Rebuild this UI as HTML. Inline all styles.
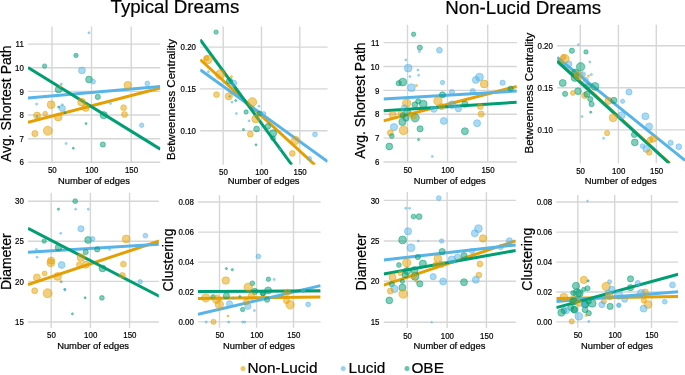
<!DOCTYPE html>
<html lang="en"><head><meta charset="utf-8"><title>Dream network measures</title>
<style>html,body{margin:0;padding:0;background:#fff}body{width:685px;height:375px;overflow:hidden}svg{display:block;will-change:transform}text{font-family:'Liberation Sans', Arial, Helvetica, sans-serif;fill:#000;stroke:#000;stroke-width:0.2px}</style></head><body>
<svg width="685" height="375" viewBox="0 0 685 375">
<rect width="685" height="375" fill="#fff"/>
<clipPath id="c0"><rect x="28.0" y="26.4" width="132.3" height="136.4"/></clipPath>
<g stroke="#d6d6d6" stroke-width="1.4" fill="none">
<line x1="52.0" y1="26.4" x2="52.0" y2="162.8"/>
<line x1="91.5" y1="26.4" x2="91.5" y2="162.8"/>
<line x1="131.2" y1="26.4" x2="131.2" y2="162.8"/>
<line x1="28.0" y1="44.1" x2="160.3" y2="44.1"/>
<line x1="28.0" y1="67.8" x2="160.3" y2="67.8"/>
<line x1="28.0" y1="91.4" x2="160.3" y2="91.4"/>
<line x1="28.0" y1="115.0" x2="160.3" y2="115.0"/>
<line x1="28.0" y1="138.7" x2="160.3" y2="138.7"/>
<line x1="28.0" y1="162.3" x2="160.3" y2="162.3"/>
</g>
<g clip-path="url(#c0)">
<line x1="28.0" y1="122.3" x2="160.3" y2="88.0" stroke="#E69F00" stroke-width="3.0"/>
<line x1="28.0" y1="97.9" x2="160.3" y2="86.5" stroke="#56B4E9" stroke-width="3.0"/>
<line x1="28.0" y1="67.6" x2="160.3" y2="149.1" stroke="#009E73" stroke-width="3.0"/>
<circle cx="89.0" cy="32.7" r="1.0" fill="#56B4E9" fill-opacity="0.5" stroke="#56B4E9" stroke-opacity="0.55" stroke-width="0.9"/>
<circle cx="76.0" cy="55.4" r="2.2" fill="#009E73" fill-opacity="0.5" stroke="#009E73" stroke-opacity="0.55" stroke-width="0.9"/>
<circle cx="76.0" cy="55.2" r="0.7" fill="#56B4E9" fill-opacity="0.5" stroke="#56B4E9" stroke-opacity="0.55" stroke-width="0.9"/>
<circle cx="44.6" cy="66.1" r="2.2" fill="#009E73" fill-opacity="0.5" stroke="#009E73" stroke-opacity="0.55" stroke-width="0.9"/>
<circle cx="81.9" cy="70.4" r="3.4" fill="#56B4E9" fill-opacity="0.5" stroke="#56B4E9" stroke-opacity="0.55" stroke-width="0.9"/>
<circle cx="89.0" cy="79.5" r="3.4" fill="#009E73" fill-opacity="0.5" stroke="#009E73" stroke-opacity="0.55" stroke-width="0.9"/>
<circle cx="93.1" cy="81.6" r="2.4" fill="#56B4E9" fill-opacity="0.5" stroke="#56B4E9" stroke-opacity="0.55" stroke-width="0.9"/>
<circle cx="61.4" cy="84.0" r="1.0" fill="#56B4E9" fill-opacity="0.5" stroke="#56B4E9" stroke-opacity="0.55" stroke-width="0.9"/>
<circle cx="58.6" cy="89.4" r="3.4" fill="#009E73" fill-opacity="0.5" stroke="#009E73" stroke-opacity="0.55" stroke-width="0.9"/>
<circle cx="60.5" cy="86.2" r="1.0" fill="#E69F00" fill-opacity="0.5" stroke="#E69F00" stroke-opacity="0.55" stroke-width="0.9"/>
<circle cx="127.7" cy="85.1" r="3.7" fill="#E69F00" fill-opacity="0.5" stroke="#E69F00" stroke-opacity="0.55" stroke-width="0.9"/>
<circle cx="147.3" cy="83.4" r="2.4" fill="#56B4E9" fill-opacity="0.5" stroke="#56B4E9" stroke-opacity="0.55" stroke-width="0.9"/>
<circle cx="36.6" cy="104.1" r="1.0" fill="#56B4E9" fill-opacity="0.5" stroke="#56B4E9" stroke-opacity="0.55" stroke-width="0.9"/>
<circle cx="51.1" cy="104.7" r="3.9" fill="#E69F00" fill-opacity="0.5" stroke="#E69F00" stroke-opacity="0.55" stroke-width="0.9"/>
<circle cx="62.3" cy="108.4" r="3.1" fill="#56B4E9" fill-opacity="0.5" stroke="#56B4E9" stroke-opacity="0.55" stroke-width="0.9"/>
<circle cx="62.3" cy="104.7" r="1.0" fill="#56B4E9" fill-opacity="0.5" stroke="#56B4E9" stroke-opacity="0.55" stroke-width="0.9"/>
<circle cx="58.6" cy="107.1" r="1.0" fill="#009E73" fill-opacity="0.5" stroke="#009E73" stroke-opacity="0.55" stroke-width="0.9"/>
<circle cx="37.1" cy="116.5" r="1.0" fill="#009E73" fill-opacity="0.5" stroke="#009E73" stroke-opacity="0.55" stroke-width="0.9"/>
<circle cx="37.1" cy="115.5" r="3.5" fill="#E69F00" fill-opacity="0.5" stroke="#E69F00" stroke-opacity="0.55" stroke-width="0.9"/>
<circle cx="45.2" cy="113.7" r="2.4" fill="#E69F00" fill-opacity="0.5" stroke="#E69F00" stroke-opacity="0.55" stroke-width="0.9"/>
<circle cx="58.2" cy="117.0" r="3.9" fill="#E69F00" fill-opacity="0.5" stroke="#E69F00" stroke-opacity="0.55" stroke-width="0.9"/>
<circle cx="65.1" cy="112.7" r="1.0" fill="#009E73" fill-opacity="0.5" stroke="#009E73" stroke-opacity="0.55" stroke-width="0.9"/>
<circle cx="81.6" cy="102.1" r="3.9" fill="#E69F00" fill-opacity="0.5" stroke="#E69F00" stroke-opacity="0.55" stroke-width="0.9"/>
<circle cx="85.7" cy="107.7" r="3.7" fill="#E69F00" fill-opacity="0.5" stroke="#E69F00" stroke-opacity="0.55" stroke-width="0.9"/>
<circle cx="86.0" cy="123.6" r="1.0" fill="#009E73" fill-opacity="0.5" stroke="#009E73" stroke-opacity="0.55" stroke-width="0.9"/>
<circle cx="47.8" cy="130.8" r="4.5" fill="#E69F00" fill-opacity="0.5" stroke="#E69F00" stroke-opacity="0.55" stroke-width="0.9"/>
<circle cx="34.9" cy="133.6" r="3.1" fill="#E69F00" fill-opacity="0.5" stroke="#E69F00" stroke-opacity="0.55" stroke-width="0.9"/>
<circle cx="66.1" cy="143.5" r="1.0" fill="#56B4E9" fill-opacity="0.5" stroke="#56B4E9" stroke-opacity="0.55" stroke-width="0.9"/>
<circle cx="73.3" cy="148.2" r="1.0" fill="#009E73" fill-opacity="0.5" stroke="#009E73" stroke-opacity="0.55" stroke-width="0.9"/>
<circle cx="97.8" cy="96.9" r="2.6" fill="#009E73" fill-opacity="0.5" stroke="#009E73" stroke-opacity="0.55" stroke-width="0.9"/>
<circle cx="110.5" cy="103.4" r="1.0" fill="#56B4E9" fill-opacity="0.5" stroke="#56B4E9" stroke-opacity="0.55" stroke-width="0.9"/>
<circle cx="123.6" cy="107.7" r="2.9" fill="#E69F00" fill-opacity="0.5" stroke="#E69F00" stroke-opacity="0.55" stroke-width="0.9"/>
<circle cx="124.5" cy="114.6" r="3.0" fill="#E69F00" fill-opacity="0.5" stroke="#E69F00" stroke-opacity="0.55" stroke-width="0.9"/>
<circle cx="103.8" cy="115.2" r="3.6" fill="#009E73" fill-opacity="0.5" stroke="#009E73" stroke-opacity="0.55" stroke-width="0.9"/>
<circle cx="141.7" cy="125.2" r="2.2" fill="#56B4E9" fill-opacity="0.5" stroke="#56B4E9" stroke-opacity="0.55" stroke-width="0.9"/>
<circle cx="102.8" cy="144.5" r="2.6" fill="#009E73" fill-opacity="0.5" stroke="#009E73" stroke-opacity="0.55" stroke-width="0.9"/>
</g>
<g font-size="8.6">
<text transform="translate(52.3 173.4) scale(0.92 1)" text-anchor="middle">50</text>
<text transform="translate(91.8 173.4) scale(0.92 1)" text-anchor="middle">100</text>
<text transform="translate(131.5 173.4) scale(0.92 1)" text-anchor="middle">150</text>
<text transform="translate(23.8 47.2) scale(0.92 1)" text-anchor="end">11</text>
<text transform="translate(23.8 70.9) scale(0.92 1)" text-anchor="end">10</text>
<text transform="translate(23.8 94.5) scale(0.92 1)" text-anchor="end">9</text>
<text transform="translate(23.8 118.1) scale(0.92 1)" text-anchor="end">8</text>
<text transform="translate(23.8 141.8) scale(0.92 1)" text-anchor="end">7</text>
<text transform="translate(23.8 165.4) scale(0.92 1)" text-anchor="end">6</text>
</g>
<text x="93.9" y="184.3" text-anchor="middle" font-size="9.4">Number of edges</text>
<text transform="translate(10.9 103.8) rotate(-90)" text-anchor="middle" font-size="14.0">Avg. Shortest Path</text>
<clipPath id="c1"><rect x="200.2" y="26.4" width="127.4" height="138.4"/></clipPath>
<g stroke="#d6d6d6" stroke-width="1.4" fill="none">
<line x1="223.2" y1="26.4" x2="223.2" y2="164.8"/>
<line x1="261.5" y1="26.4" x2="261.5" y2="164.8"/>
<line x1="299.8" y1="26.4" x2="299.8" y2="164.8"/>
<line x1="200.2" y1="47.1" x2="327.6" y2="47.1"/>
<line x1="200.2" y1="88.9" x2="327.6" y2="88.9"/>
<line x1="200.2" y1="130.7" x2="327.6" y2="130.7"/>
</g>
<g clip-path="url(#c1)">
<line x1="200.2" y1="59.5" x2="314.8" y2="164.8" stroke="#E69F00" stroke-width="3.0"/>
<line x1="200.2" y1="69.8" x2="327.6" y2="161.5" stroke="#56B4E9" stroke-width="3.0"/>
<line x1="200.2" y1="39.7" x2="291.8" y2="164.8" stroke="#009E73" stroke-width="3.0"/>
<circle cx="216.1" cy="32.1" r="2.2" fill="#009E73" fill-opacity="0.5" stroke="#009E73" stroke-opacity="0.55" stroke-width="0.9"/>
<circle cx="208.1" cy="59.5" r="4.2" fill="#E69F00" fill-opacity="0.5" stroke="#E69F00" stroke-opacity="0.55" stroke-width="0.9"/>
<circle cx="206.2" cy="58.2" r="2.6" fill="#E69F00" fill-opacity="0.5" stroke="#E69F00" stroke-opacity="0.55" stroke-width="0.9"/>
<circle cx="208.4" cy="71.7" r="1.1" fill="#56B4E9" fill-opacity="0.5" stroke="#56B4E9" stroke-opacity="0.55" stroke-width="0.9"/>
<circle cx="220.2" cy="74.5" r="4.7" fill="#E69F00" fill-opacity="0.5" stroke="#E69F00" stroke-opacity="0.55" stroke-width="0.9"/>
<circle cx="231.4" cy="76.7" r="1.1" fill="#E69F00" fill-opacity="0.5" stroke="#E69F00" stroke-opacity="0.55" stroke-width="0.9"/>
<circle cx="233.6" cy="83.2" r="3.1" fill="#56B4E9" fill-opacity="0.5" stroke="#56B4E9" stroke-opacity="0.55" stroke-width="0.9"/>
<circle cx="229.5" cy="81.0" r="3.1" fill="#009E73" fill-opacity="0.5" stroke="#009E73" stroke-opacity="0.55" stroke-width="0.9"/>
<circle cx="216.5" cy="94.6" r="2.9" fill="#E69F00" fill-opacity="0.5" stroke="#E69F00" stroke-opacity="0.55" stroke-width="0.9"/>
<circle cx="229.6" cy="96.4" r="0.8" fill="#009E73" fill-opacity="0.5" stroke="#009E73" stroke-opacity="0.55" stroke-width="0.9"/>
<circle cx="228.8" cy="96.3" r="3.6" fill="#E69F00" fill-opacity="0.5" stroke="#E69F00" stroke-opacity="0.55" stroke-width="0.9"/>
<circle cx="232.0" cy="102.1" r="1.0" fill="#56B4E9" fill-opacity="0.5" stroke="#56B4E9" stroke-opacity="0.55" stroke-width="0.9"/>
<circle cx="235.7" cy="100.6" r="1.0" fill="#009E73" fill-opacity="0.5" stroke="#009E73" stroke-opacity="0.55" stroke-width="0.9"/>
<circle cx="252.3" cy="102.1" r="4.4" fill="#E69F00" fill-opacity="0.5" stroke="#E69F00" stroke-opacity="0.55" stroke-width="0.9"/>
<circle cx="259.0" cy="106.2" r="1.0" fill="#56B4E9" fill-opacity="0.5" stroke="#56B4E9" stroke-opacity="0.55" stroke-width="0.9"/>
<circle cx="236.4" cy="113.5" r="1.0" fill="#56B4E9" fill-opacity="0.5" stroke="#56B4E9" stroke-opacity="0.55" stroke-width="0.9"/>
<circle cx="246.1" cy="112.0" r="2.2" fill="#009E73" fill-opacity="0.5" stroke="#009E73" stroke-opacity="0.55" stroke-width="0.9"/>
<circle cx="255.7" cy="118.9" r="3.9" fill="#E69F00" fill-opacity="0.5" stroke="#E69F00" stroke-opacity="0.55" stroke-width="0.9"/>
<circle cx="249.1" cy="120.8" r="1.0" fill="#56B4E9" fill-opacity="0.5" stroke="#56B4E9" stroke-opacity="0.55" stroke-width="0.9"/>
<circle cx="259.6" cy="113.5" r="2.6" fill="#009E73" fill-opacity="0.5" stroke="#009E73" stroke-opacity="0.55" stroke-width="0.9"/>
<circle cx="243.5" cy="129.5" r="1.1" fill="#009E73" fill-opacity="0.5" stroke="#009E73" stroke-opacity="0.55" stroke-width="0.9"/>
<circle cx="256.6" cy="129.0" r="2.9" fill="#009E73" fill-opacity="0.5" stroke="#009E73" stroke-opacity="0.55" stroke-width="0.9"/>
<circle cx="250.3" cy="134.2" r="2.9" fill="#E69F00" fill-opacity="0.5" stroke="#E69F00" stroke-opacity="0.55" stroke-width="0.9"/>
<circle cx="256.0" cy="144.8" r="1.0" fill="#009E73" fill-opacity="0.5" stroke="#009E73" stroke-opacity="0.55" stroke-width="0.9"/>
<circle cx="263.7" cy="113.7" r="2.1" fill="#56B4E9" fill-opacity="0.5" stroke="#56B4E9" stroke-opacity="0.55" stroke-width="0.9"/>
<circle cx="267.8" cy="126.4" r="2.9" fill="#009E73" fill-opacity="0.5" stroke="#009E73" stroke-opacity="0.55" stroke-width="0.9"/>
<circle cx="273.1" cy="133.3" r="3.6" fill="#009E73" fill-opacity="0.5" stroke="#009E73" stroke-opacity="0.55" stroke-width="0.9"/>
<circle cx="273.1" cy="138.3" r="2.4" fill="#009E73" fill-opacity="0.5" stroke="#009E73" stroke-opacity="0.55" stroke-width="0.9"/>
<circle cx="295.5" cy="140.4" r="4.2" fill="#E69F00" fill-opacity="0.5" stroke="#E69F00" stroke-opacity="0.55" stroke-width="0.9"/>
<circle cx="314.9" cy="134.4" r="2.4" fill="#56B4E9" fill-opacity="0.5" stroke="#56B4E9" stroke-opacity="0.55" stroke-width="0.9"/>
<circle cx="292.3" cy="153.4" r="2.9" fill="#E69F00" fill-opacity="0.5" stroke="#E69F00" stroke-opacity="0.55" stroke-width="0.9"/>
<circle cx="309.5" cy="158.5" r="2.1" fill="#56B4E9" fill-opacity="0.5" stroke="#56B4E9" stroke-opacity="0.55" stroke-width="0.9"/>
<circle cx="279.6" cy="149.5" r="1.0" fill="#56B4E9" fill-opacity="0.5" stroke="#56B4E9" stroke-opacity="0.55" stroke-width="0.9"/>
</g>
<g font-size="8.6">
<text transform="translate(223.5 175.4) scale(0.92 1)" text-anchor="middle">50</text>
<text transform="translate(261.8 175.4) scale(0.92 1)" text-anchor="middle">100</text>
<text transform="translate(300.1 175.4) scale(0.92 1)" text-anchor="middle">150</text>
<text transform="translate(196.0 50.2) scale(0.92 1)" text-anchor="end">0.20</text>
<text transform="translate(196.0 92.0) scale(0.92 1)" text-anchor="end">0.15</text>
<text transform="translate(196.0 133.8) scale(0.92 1)" text-anchor="end">0.10</text>
</g>
<text x="263.6" y="184.3" text-anchor="middle" font-size="9.4">Number of edges</text>
<text transform="translate(175.3 99.5) rotate(-90)" text-anchor="middle" font-size="11.5">Betweenness Centrality</text>
<clipPath id="c2"><rect x="28.0" y="192.8" width="130.8" height="135.1"/></clipPath>
<g stroke="#d6d6d6" stroke-width="1.4" fill="none">
<line x1="51.2" y1="192.8" x2="51.2" y2="327.9"/>
<line x1="90.4" y1="192.8" x2="90.4" y2="327.9"/>
<line x1="129.6" y1="192.8" x2="129.6" y2="327.9"/>
<line x1="28.0" y1="201.2" x2="158.8" y2="201.2"/>
<line x1="28.0" y1="241.3" x2="158.8" y2="241.3"/>
<line x1="28.0" y1="281.4" x2="158.8" y2="281.4"/>
<line x1="28.0" y1="322.0" x2="158.8" y2="322.0"/>
</g>
<g clip-path="url(#c2)">
<line x1="28.0" y1="284.7" x2="159.8" y2="240.8" stroke="#E69F00" stroke-width="3.0"/>
<line x1="28.0" y1="252.2" x2="159.8" y2="244.2" stroke="#56B4E9" stroke-width="3.0"/>
<line x1="28.0" y1="228.3" x2="159.8" y2="296.6" stroke="#009E73" stroke-width="3.0"/>
<circle cx="75.2" cy="201.2" r="2.4" fill="#009E73" fill-opacity="0.5" stroke="#009E73" stroke-opacity="0.55" stroke-width="0.9"/>
<circle cx="58.4" cy="209.2" r="1.1" fill="#009E73" fill-opacity="0.5" stroke="#009E73" stroke-opacity="0.55" stroke-width="0.9"/>
<circle cx="75.6" cy="209.2" r="1.0" fill="#56B4E9" fill-opacity="0.5" stroke="#56B4E9" stroke-opacity="0.55" stroke-width="0.9"/>
<circle cx="88.3" cy="209.2" r="1.0" fill="#56B4E9" fill-opacity="0.5" stroke="#56B4E9" stroke-opacity="0.55" stroke-width="0.9"/>
<circle cx="81.0" cy="228.8" r="3.1" fill="#56B4E9" fill-opacity="0.5" stroke="#56B4E9" stroke-opacity="0.55" stroke-width="0.9"/>
<circle cx="60.7" cy="233.3" r="1.0" fill="#56B4E9" fill-opacity="0.5" stroke="#56B4E9" stroke-opacity="0.55" stroke-width="0.9"/>
<circle cx="88.1" cy="240.0" r="3.4" fill="#009E73" fill-opacity="0.5" stroke="#009E73" stroke-opacity="0.55" stroke-width="0.9"/>
<circle cx="92.6" cy="238.9" r="2.4" fill="#56B4E9" fill-opacity="0.5" stroke="#56B4E9" stroke-opacity="0.55" stroke-width="0.9"/>
<circle cx="44.2" cy="241.1" r="2.2" fill="#009E73" fill-opacity="0.5" stroke="#009E73" stroke-opacity="0.55" stroke-width="0.9"/>
<circle cx="58.6" cy="247.5" r="3.4" fill="#009E73" fill-opacity="0.5" stroke="#009E73" stroke-opacity="0.55" stroke-width="0.9"/>
<circle cx="36.4" cy="249.4" r="1.0" fill="#56B4E9" fill-opacity="0.5" stroke="#56B4E9" stroke-opacity="0.55" stroke-width="0.9"/>
<circle cx="85.7" cy="252.0" r="2.6" fill="#009E73" fill-opacity="0.5" stroke="#009E73" stroke-opacity="0.55" stroke-width="0.9"/>
<circle cx="37.1" cy="257.2" r="1.0" fill="#56B4E9" fill-opacity="0.5" stroke="#56B4E9" stroke-opacity="0.55" stroke-width="0.9"/>
<circle cx="51.1" cy="260.6" r="3.6" fill="#E69F00" fill-opacity="0.5" stroke="#E69F00" stroke-opacity="0.55" stroke-width="0.9"/>
<circle cx="81.0" cy="257.6" r="3.9" fill="#E69F00" fill-opacity="0.5" stroke="#E69F00" stroke-opacity="0.55" stroke-width="0.9"/>
<circle cx="126.2" cy="238.9" r="3.9" fill="#E69F00" fill-opacity="0.5" stroke="#E69F00" stroke-opacity="0.55" stroke-width="0.9"/>
<circle cx="145.4" cy="235.7" r="2.4" fill="#56B4E9" fill-opacity="0.5" stroke="#56B4E9" stroke-opacity="0.55" stroke-width="0.9"/>
<circle cx="97.2" cy="249.4" r="2.6" fill="#009E73" fill-opacity="0.5" stroke="#009E73" stroke-opacity="0.55" stroke-width="0.9"/>
<circle cx="109.6" cy="249.4" r="1.0" fill="#56B4E9" fill-opacity="0.5" stroke="#56B4E9" stroke-opacity="0.55" stroke-width="0.9"/>
<circle cx="50.8" cy="262.8" r="3.9" fill="#E69F00" fill-opacity="0.5" stroke="#E69F00" stroke-opacity="0.55" stroke-width="0.9"/>
<circle cx="61.6" cy="265.0" r="3.4" fill="#56B4E9" fill-opacity="0.5" stroke="#56B4E9" stroke-opacity="0.55" stroke-width="0.9"/>
<circle cx="44.6" cy="273.4" r="2.4" fill="#E69F00" fill-opacity="0.5" stroke="#E69F00" stroke-opacity="0.55" stroke-width="0.9"/>
<circle cx="36.9" cy="277.4" r="3.5" fill="#E69F00" fill-opacity="0.5" stroke="#E69F00" stroke-opacity="0.55" stroke-width="0.9"/>
<circle cx="57.7" cy="276.4" r="3.9" fill="#E69F00" fill-opacity="0.5" stroke="#E69F00" stroke-opacity="0.55" stroke-width="0.9"/>
<circle cx="60.8" cy="281.7" r="1.0" fill="#E69F00" fill-opacity="0.5" stroke="#E69F00" stroke-opacity="0.55" stroke-width="0.9"/>
<circle cx="61.5" cy="281.7" r="1.0" fill="#56B4E9" fill-opacity="0.5" stroke="#56B4E9" stroke-opacity="0.55" stroke-width="0.9"/>
<circle cx="34.7" cy="290.8" r="3.0" fill="#E69F00" fill-opacity="0.5" stroke="#E69F00" stroke-opacity="0.55" stroke-width="0.9"/>
<circle cx="47.6" cy="293.2" r="4.5" fill="#E69F00" fill-opacity="0.5" stroke="#E69F00" stroke-opacity="0.55" stroke-width="0.9"/>
<circle cx="64.8" cy="289.5" r="1.1" fill="#009E73" fill-opacity="0.5" stroke="#009E73" stroke-opacity="0.55" stroke-width="0.9"/>
<circle cx="64.8" cy="289.5" r="1.0" fill="#56B4E9" fill-opacity="0.5" stroke="#56B4E9" stroke-opacity="0.55" stroke-width="0.9"/>
<circle cx="85.1" cy="297.7" r="1.0" fill="#009E73" fill-opacity="0.5" stroke="#009E73" stroke-opacity="0.55" stroke-width="0.9"/>
<circle cx="72.4" cy="313.8" r="1.0" fill="#009E73" fill-opacity="0.5" stroke="#009E73" stroke-opacity="0.55" stroke-width="0.9"/>
<circle cx="85.7" cy="264.7" r="3.6" fill="#E69F00" fill-opacity="0.5" stroke="#E69F00" stroke-opacity="0.55" stroke-width="0.9"/>
<circle cx="79.1" cy="264.7" r="2.6" fill="#E69F00" fill-opacity="0.5" stroke="#E69F00" stroke-opacity="0.55" stroke-width="0.9"/>
<circle cx="123.4" cy="264.1" r="2.9" fill="#E69F00" fill-opacity="0.5" stroke="#E69F00" stroke-opacity="0.55" stroke-width="0.9"/>
<circle cx="122.4" cy="275.3" r="2.9" fill="#E69F00" fill-opacity="0.5" stroke="#E69F00" stroke-opacity="0.55" stroke-width="0.9"/>
<circle cx="102.5" cy="268.4" r="3.4" fill="#009E73" fill-opacity="0.5" stroke="#009E73" stroke-opacity="0.55" stroke-width="0.9"/>
<circle cx="140.2" cy="281.7" r="2.2" fill="#56B4E9" fill-opacity="0.5" stroke="#56B4E9" stroke-opacity="0.55" stroke-width="0.9"/>
<circle cx="101.9" cy="297.9" r="2.4" fill="#009E73" fill-opacity="0.5" stroke="#009E73" stroke-opacity="0.55" stroke-width="0.9"/>
</g>
<g font-size="8.6">
<text transform="translate(51.5 338.4) scale(0.92 1)" text-anchor="middle">50</text>
<text transform="translate(90.7 338.4) scale(0.92 1)" text-anchor="middle">100</text>
<text transform="translate(129.9 338.4) scale(0.92 1)" text-anchor="middle">150</text>
<text transform="translate(23.8 204.3) scale(0.92 1)" text-anchor="end">30</text>
<text transform="translate(23.8 244.4) scale(0.92 1)" text-anchor="end">25</text>
<text transform="translate(23.8 284.5) scale(0.92 1)" text-anchor="end">20</text>
<text transform="translate(23.8 325.1) scale(0.92 1)" text-anchor="end">15</text>
</g>
<text x="93.1" y="349.1" text-anchor="middle" font-size="9.4">Number of edges</text>
<text transform="translate(10.6 261.7) rotate(-90)" text-anchor="middle" font-size="14.0">Diameter</text>
<clipPath id="c3"><rect x="198.0" y="195.2" width="122.6" height="132.6"/></clipPath>
<g stroke="#d6d6d6" stroke-width="1.4" fill="none">
<line x1="219.5" y1="195.2" x2="219.5" y2="327.8"/>
<line x1="256.6" y1="195.2" x2="256.6" y2="327.8"/>
<line x1="293.5" y1="195.2" x2="293.5" y2="327.8"/>
<line x1="198.0" y1="202.0" x2="320.6" y2="202.0"/>
<line x1="198.0" y1="232.1" x2="320.6" y2="232.1"/>
<line x1="198.0" y1="262.1" x2="320.6" y2="262.1"/>
<line x1="198.0" y1="292.1" x2="320.6" y2="292.1"/>
<line x1="198.0" y1="321.9" x2="320.6" y2="321.9"/>
</g>
<g clip-path="url(#c3)">
<line x1="198.0" y1="298.6" x2="320.6" y2="296.9" stroke="#E69F00" stroke-width="3.0"/>
<line x1="198.0" y1="314.4" x2="320.6" y2="285.6" stroke="#56B4E9" stroke-width="3.0"/>
<line x1="198.0" y1="291.6" x2="320.6" y2="290.8" stroke="#009E73" stroke-width="3.0"/>
<circle cx="226.4" cy="268.6" r="1.1" fill="#009E73" fill-opacity="0.5" stroke="#009E73" stroke-opacity="0.55" stroke-width="0.9"/>
<circle cx="232.3" cy="269.7" r="1.1" fill="#009E73" fill-opacity="0.5" stroke="#009E73" stroke-opacity="0.55" stroke-width="0.9"/>
<circle cx="225.8" cy="280.5" r="3.7" fill="#E69F00" fill-opacity="0.5" stroke="#E69F00" stroke-opacity="0.55" stroke-width="0.9"/>
<circle cx="252.3" cy="283.3" r="2.4" fill="#009E73" fill-opacity="0.5" stroke="#009E73" stroke-opacity="0.55" stroke-width="0.9"/>
<circle cx="248.2" cy="287.1" r="4.2" fill="#E69F00" fill-opacity="0.5" stroke="#E69F00" stroke-opacity="0.55" stroke-width="0.9"/>
<circle cx="254.7" cy="291.4" r="3.1" fill="#009E73" fill-opacity="0.5" stroke="#009E73" stroke-opacity="0.55" stroke-width="0.9"/>
<circle cx="205.8" cy="297.9" r="4.2" fill="#E69F00" fill-opacity="0.5" stroke="#E69F00" stroke-opacity="0.55" stroke-width="0.9"/>
<circle cx="213.1" cy="296.8" r="2.2" fill="#009E73" fill-opacity="0.5" stroke="#009E73" stroke-opacity="0.55" stroke-width="0.9"/>
<circle cx="216.5" cy="299.2" r="4.2" fill="#E69F00" fill-opacity="0.5" stroke="#E69F00" stroke-opacity="0.55" stroke-width="0.9"/>
<circle cx="219.3" cy="304.4" r="4.2" fill="#E69F00" fill-opacity="0.5" stroke="#E69F00" stroke-opacity="0.55" stroke-width="0.9"/>
<circle cx="226.4" cy="295.8" r="3.1" fill="#009E73" fill-opacity="0.5" stroke="#009E73" stroke-opacity="0.55" stroke-width="0.9"/>
<circle cx="229.5" cy="303.9" r="3.1" fill="#56B4E9" fill-opacity="0.5" stroke="#56B4E9" stroke-opacity="0.55" stroke-width="0.9"/>
<circle cx="239.8" cy="296.4" r="1.0" fill="#009E73" fill-opacity="0.5" stroke="#009E73" stroke-opacity="0.55" stroke-width="0.9"/>
<circle cx="233.3" cy="297.9" r="1.0" fill="#56B4E9" fill-opacity="0.5" stroke="#56B4E9" stroke-opacity="0.55" stroke-width="0.9"/>
<circle cx="251.6" cy="296.0" r="3.4" fill="#E69F00" fill-opacity="0.5" stroke="#E69F00" stroke-opacity="0.55" stroke-width="0.9"/>
<circle cx="246.3" cy="302.0" r="2.9" fill="#E69F00" fill-opacity="0.5" stroke="#E69F00" stroke-opacity="0.55" stroke-width="0.9"/>
<circle cx="247.8" cy="306.3" r="3.1" fill="#56B4E9" fill-opacity="0.5" stroke="#56B4E9" stroke-opacity="0.55" stroke-width="0.9"/>
<circle cx="242.6" cy="309.5" r="2.2" fill="#009E73" fill-opacity="0.5" stroke="#009E73" stroke-opacity="0.55" stroke-width="0.9"/>
<circle cx="254.4" cy="310.6" r="1.0" fill="#56B4E9" fill-opacity="0.5" stroke="#56B4E9" stroke-opacity="0.55" stroke-width="0.9"/>
<circle cx="228.0" cy="316.0" r="1.0" fill="#E69F00" fill-opacity="0.5" stroke="#E69F00" stroke-opacity="0.55" stroke-width="0.9"/>
<circle cx="213.5" cy="321.8" r="2.6" fill="#E69F00" fill-opacity="0.5" stroke="#E69F00" stroke-opacity="0.55" stroke-width="0.9"/>
<circle cx="206.2" cy="322.0" r="1.1" fill="#56B4E9" fill-opacity="0.5" stroke="#56B4E9" stroke-opacity="0.55" stroke-width="0.9"/>
<circle cx="228.6" cy="322.0" r="1.0" fill="#56B4E9" fill-opacity="0.5" stroke="#56B4E9" stroke-opacity="0.55" stroke-width="0.9"/>
<circle cx="242.6" cy="322.0" r="1.0" fill="#56B4E9" fill-opacity="0.5" stroke="#56B4E9" stroke-opacity="0.55" stroke-width="0.9"/>
<circle cx="244.7" cy="322.0" r="1.0" fill="#56B4E9" fill-opacity="0.5" stroke="#56B4E9" stroke-opacity="0.55" stroke-width="0.9"/>
<circle cx="263.1" cy="293.2" r="2.6" fill="#009E73" fill-opacity="0.5" stroke="#009E73" stroke-opacity="0.55" stroke-width="0.9"/>
<circle cx="258.4" cy="256.4" r="2.4" fill="#56B4E9" fill-opacity="0.5" stroke="#56B4E9" stroke-opacity="0.55" stroke-width="0.9"/>
<circle cx="268.4" cy="279.2" r="2.2" fill="#009E73" fill-opacity="0.5" stroke="#009E73" stroke-opacity="0.55" stroke-width="0.9"/>
<circle cx="274.2" cy="279.4" r="1.0" fill="#56B4E9" fill-opacity="0.5" stroke="#56B4E9" stroke-opacity="0.55" stroke-width="0.9"/>
<circle cx="268.1" cy="290.4" r="3.5" fill="#009E73" fill-opacity="0.5" stroke="#009E73" stroke-opacity="0.55" stroke-width="0.9"/>
<circle cx="262.8" cy="293.2" r="2.6" fill="#009E73" fill-opacity="0.5" stroke="#009E73" stroke-opacity="0.55" stroke-width="0.9"/>
<circle cx="267.1" cy="299.7" r="2.6" fill="#009E73" fill-opacity="0.5" stroke="#009E73" stroke-opacity="0.55" stroke-width="0.9"/>
<circle cx="287.3" cy="292.3" r="3.1" fill="#E69F00" fill-opacity="0.5" stroke="#E69F00" stroke-opacity="0.55" stroke-width="0.9"/>
<circle cx="286.4" cy="300.7" r="2.9" fill="#E69F00" fill-opacity="0.5" stroke="#E69F00" stroke-opacity="0.55" stroke-width="0.9"/>
<circle cx="290.1" cy="304.8" r="4.2" fill="#E69F00" fill-opacity="0.5" stroke="#E69F00" stroke-opacity="0.55" stroke-width="0.9"/>
<circle cx="303.2" cy="290.8" r="2.0" fill="#56B4E9" fill-opacity="0.5" stroke="#56B4E9" stroke-opacity="0.55" stroke-width="0.9"/>
<circle cx="308.2" cy="304.4" r="2.4" fill="#56B4E9" fill-opacity="0.5" stroke="#56B4E9" stroke-opacity="0.55" stroke-width="0.9"/>
</g>
<g font-size="8.6">
<text transform="translate(219.8 338.4) scale(0.92 1)" text-anchor="middle">50</text>
<text transform="translate(256.9 338.4) scale(0.92 1)" text-anchor="middle">100</text>
<text transform="translate(293.8 338.4) scale(0.92 1)" text-anchor="middle">150</text>
<text transform="translate(193.8 205.1) scale(0.92 1)" text-anchor="end">0.08</text>
<text transform="translate(193.8 235.2) scale(0.92 1)" text-anchor="end">0.06</text>
<text transform="translate(193.8 265.2) scale(0.92 1)" text-anchor="end">0.04</text>
<text transform="translate(193.8 295.2) scale(0.92 1)" text-anchor="end">0.02</text>
<text transform="translate(193.8 325.0) scale(0.92 1)" text-anchor="end">0.00</text>
</g>
<text x="259.0" y="349.1" text-anchor="middle" font-size="9.4">Number of edges</text>
<text transform="translate(172.8 260.0) rotate(-90)" text-anchor="middle" font-size="14.0">Clustering</text>
<clipPath id="c4"><rect x="383.5" y="24.8" width="133.3" height="137.8"/></clipPath>
<g stroke="#d6d6d6" stroke-width="1.4" fill="none">
<line x1="407.5" y1="24.8" x2="407.5" y2="162.6"/>
<line x1="447.5" y1="24.8" x2="447.5" y2="162.6"/>
<line x1="487.7" y1="24.8" x2="487.7" y2="162.6"/>
<line x1="383.5" y1="42.6" x2="516.8" y2="42.6"/>
<line x1="383.5" y1="66.5" x2="516.8" y2="66.5"/>
<line x1="383.5" y1="90.4" x2="516.8" y2="90.4"/>
<line x1="383.5" y1="114.2" x2="516.8" y2="114.2"/>
<line x1="383.5" y1="138.1" x2="516.8" y2="138.1"/>
<line x1="383.5" y1="162.0" x2="516.8" y2="162.0"/>
</g>
<g clip-path="url(#c4)">
<line x1="383.5" y1="120.9" x2="516.8" y2="86.4" stroke="#E69F00" stroke-width="3.0"/>
<line x1="383.5" y1="99.1" x2="516.8" y2="91.0" stroke="#56B4E9" stroke-width="3.0"/>
<line x1="383.5" y1="110.7" x2="516.8" y2="102.3" stroke="#009E73" stroke-width="3.0"/>
<circle cx="413.6" cy="34.3" r="2.2" fill="#009E73" fill-opacity="0.5" stroke="#009E73" stroke-opacity="0.55" stroke-width="0.9"/>
<circle cx="419.8" cy="47.6" r="2.6" fill="#009E73" fill-opacity="0.5" stroke="#009E73" stroke-opacity="0.55" stroke-width="0.9"/>
<circle cx="419.4" cy="51.5" r="1.1" fill="#56B4E9" fill-opacity="0.5" stroke="#56B4E9" stroke-opacity="0.55" stroke-width="0.9"/>
<circle cx="439.4" cy="50.2" r="2.9" fill="#56B4E9" fill-opacity="0.5" stroke="#56B4E9" stroke-opacity="0.55" stroke-width="0.9"/>
<circle cx="405.8" cy="59.9" r="1.0" fill="#56B4E9" fill-opacity="0.5" stroke="#56B4E9" stroke-opacity="0.55" stroke-width="0.9"/>
<circle cx="408.2" cy="68.1" r="3.9" fill="#56B4E9" fill-opacity="0.5" stroke="#56B4E9" stroke-opacity="0.55" stroke-width="0.9"/>
<circle cx="417.9" cy="70.0" r="1.0" fill="#56B4E9" fill-opacity="0.5" stroke="#56B4E9" stroke-opacity="0.55" stroke-width="0.9"/>
<circle cx="418.6" cy="75.2" r="1.0" fill="#56B4E9" fill-opacity="0.5" stroke="#56B4E9" stroke-opacity="0.55" stroke-width="0.9"/>
<circle cx="409.9" cy="76.5" r="1.0" fill="#56B4E9" fill-opacity="0.5" stroke="#56B4E9" stroke-opacity="0.55" stroke-width="0.9"/>
<circle cx="402.8" cy="82.1" r="3.9" fill="#009E73" fill-opacity="0.5" stroke="#009E73" stroke-opacity="0.55" stroke-width="0.9"/>
<circle cx="398.7" cy="83.2" r="2.6" fill="#009E73" fill-opacity="0.5" stroke="#009E73" stroke-opacity="0.55" stroke-width="0.9"/>
<circle cx="411.4" cy="87.7" r="3.9" fill="#56B4E9" fill-opacity="0.5" stroke="#56B4E9" stroke-opacity="0.55" stroke-width="0.9"/>
<circle cx="416.4" cy="85.5" r="1.1" fill="#E69F00" fill-opacity="0.5" stroke="#E69F00" stroke-opacity="0.55" stroke-width="0.9"/>
<circle cx="442.5" cy="82.5" r="2.2" fill="#56B4E9" fill-opacity="0.5" stroke="#56B4E9" stroke-opacity="0.55" stroke-width="0.9"/>
<circle cx="479.5" cy="77.1" r="3.9" fill="#56B4E9" fill-opacity="0.5" stroke="#56B4E9" stroke-opacity="0.55" stroke-width="0.9"/>
<circle cx="475.8" cy="79.9" r="3.5" fill="#56B4E9" fill-opacity="0.5" stroke="#56B4E9" stroke-opacity="0.55" stroke-width="0.9"/>
<circle cx="484.2" cy="84.0" r="3.9" fill="#E69F00" fill-opacity="0.5" stroke="#E69F00" stroke-opacity="0.55" stroke-width="0.9"/>
<circle cx="502.6" cy="82.7" r="2.6" fill="#56B4E9" fill-opacity="0.5" stroke="#56B4E9" stroke-opacity="0.55" stroke-width="0.9"/>
<circle cx="472.8" cy="91.1" r="2.6" fill="#56B4E9" fill-opacity="0.5" stroke="#56B4E9" stroke-opacity="0.55" stroke-width="0.9"/>
<circle cx="451.9" cy="92.0" r="2.6" fill="#56B4E9" fill-opacity="0.5" stroke="#56B4E9" stroke-opacity="0.55" stroke-width="0.9"/>
<circle cx="510.7" cy="88.6" r="2.6" fill="#009E73" fill-opacity="0.5" stroke="#009E73" stroke-opacity="0.55" stroke-width="0.9"/>
<circle cx="442.5" cy="94.8" r="3.1" fill="#009E73" fill-opacity="0.5" stroke="#009E73" stroke-opacity="0.55" stroke-width="0.9"/>
<circle cx="406.7" cy="103.2" r="4.2" fill="#E69F00" fill-opacity="0.5" stroke="#E69F00" stroke-opacity="0.55" stroke-width="0.9"/>
<circle cx="418.3" cy="101.3" r="2.6" fill="#009E73" fill-opacity="0.5" stroke="#009E73" stroke-opacity="0.55" stroke-width="0.9"/>
<circle cx="414.9" cy="104.7" r="2.9" fill="#009E73" fill-opacity="0.5" stroke="#009E73" stroke-opacity="0.55" stroke-width="0.9"/>
<circle cx="423.3" cy="104.1" r="3.9" fill="#009E73" fill-opacity="0.5" stroke="#009E73" stroke-opacity="0.55" stroke-width="0.9"/>
<circle cx="437.9" cy="101.0" r="4.2" fill="#E69F00" fill-opacity="0.5" stroke="#E69F00" stroke-opacity="0.55" stroke-width="0.9"/>
<circle cx="441.6" cy="106.6" r="3.1" fill="#E69F00" fill-opacity="0.5" stroke="#E69F00" stroke-opacity="0.55" stroke-width="0.9"/>
<circle cx="433.8" cy="109.2" r="3.1" fill="#56B4E9" fill-opacity="0.5" stroke="#56B4E9" stroke-opacity="0.55" stroke-width="0.9"/>
<circle cx="404.3" cy="107.9" r="3.1" fill="#56B4E9" fill-opacity="0.5" stroke="#56B4E9" stroke-opacity="0.55" stroke-width="0.9"/>
<circle cx="407.1" cy="111.6" r="3.6" fill="#009E73" fill-opacity="0.5" stroke="#009E73" stroke-opacity="0.55" stroke-width="0.9"/>
<circle cx="392.7" cy="114.8" r="3.5" fill="#E69F00" fill-opacity="0.5" stroke="#E69F00" stroke-opacity="0.55" stroke-width="0.9"/>
<circle cx="400.5" cy="113.5" r="2.6" fill="#E69F00" fill-opacity="0.5" stroke="#E69F00" stroke-opacity="0.55" stroke-width="0.9"/>
<circle cx="402.8" cy="115.3" r="2.6" fill="#009E73" fill-opacity="0.5" stroke="#009E73" stroke-opacity="0.55" stroke-width="0.9"/>
<circle cx="406.1" cy="118.1" r="3.1" fill="#009E73" fill-opacity="0.5" stroke="#009E73" stroke-opacity="0.55" stroke-width="0.9"/>
<circle cx="410.8" cy="114.4" r="2.6" fill="#E69F00" fill-opacity="0.5" stroke="#E69F00" stroke-opacity="0.55" stroke-width="0.9"/>
<circle cx="415.1" cy="117.8" r="4.2" fill="#009E73" fill-opacity="0.5" stroke="#009E73" stroke-opacity="0.55" stroke-width="0.9"/>
<circle cx="413.6" cy="116.3" r="2.6" fill="#E69F00" fill-opacity="0.5" stroke="#E69F00" stroke-opacity="0.55" stroke-width="0.9"/>
<circle cx="402.4" cy="121.9" r="3.6" fill="#009E73" fill-opacity="0.5" stroke="#009E73" stroke-opacity="0.55" stroke-width="0.9"/>
<circle cx="394.0" cy="127.1" r="3.6" fill="#56B4E9" fill-opacity="0.5" stroke="#56B4E9" stroke-opacity="0.55" stroke-width="0.9"/>
<circle cx="403.5" cy="130.3" r="4.4" fill="#E69F00" fill-opacity="0.5" stroke="#E69F00" stroke-opacity="0.55" stroke-width="0.9"/>
<circle cx="390.3" cy="132.7" r="3.0" fill="#E69F00" fill-opacity="0.5" stroke="#E69F00" stroke-opacity="0.55" stroke-width="0.9"/>
<circle cx="391.8" cy="136.1" r="2.4" fill="#009E73" fill-opacity="0.5" stroke="#009E73" stroke-opacity="0.55" stroke-width="0.9"/>
<circle cx="420.1" cy="128.8" r="3.1" fill="#009E73" fill-opacity="0.5" stroke="#009E73" stroke-opacity="0.55" stroke-width="0.9"/>
<circle cx="443.8" cy="120.9" r="3.5" fill="#56B4E9" fill-opacity="0.5" stroke="#56B4E9" stroke-opacity="0.55" stroke-width="0.9"/>
<circle cx="418.6" cy="139.6" r="1.1" fill="#009E73" fill-opacity="0.5" stroke="#009E73" stroke-opacity="0.55" stroke-width="0.9"/>
<circle cx="389.3" cy="146.5" r="3.4" fill="#009E73" fill-opacity="0.5" stroke="#009E73" stroke-opacity="0.55" stroke-width="0.9"/>
<circle cx="432.3" cy="156.4" r="1.0" fill="#56B4E9" fill-opacity="0.5" stroke="#56B4E9" stroke-opacity="0.55" stroke-width="0.9"/>
<circle cx="452.2" cy="104.7" r="3.9" fill="#56B4E9" fill-opacity="0.5" stroke="#56B4E9" stroke-opacity="0.55" stroke-width="0.9"/>
<circle cx="458.4" cy="108.8" r="3.1" fill="#56B4E9" fill-opacity="0.5" stroke="#56B4E9" stroke-opacity="0.55" stroke-width="0.9"/>
<circle cx="464.9" cy="104.1" r="3.1" fill="#009E73" fill-opacity="0.5" stroke="#009E73" stroke-opacity="0.55" stroke-width="0.9"/>
<circle cx="480.2" cy="106.6" r="2.9" fill="#E69F00" fill-opacity="0.5" stroke="#E69F00" stroke-opacity="0.55" stroke-width="0.9"/>
<circle cx="481.2" cy="114.0" r="3.0" fill="#E69F00" fill-opacity="0.5" stroke="#E69F00" stroke-opacity="0.55" stroke-width="0.9"/>
<circle cx="477.1" cy="123.2" r="3.5" fill="#56B4E9" fill-opacity="0.5" stroke="#56B4E9" stroke-opacity="0.55" stroke-width="0.9"/>
<circle cx="464.9" cy="131.2" r="3.5" fill="#009E73" fill-opacity="0.5" stroke="#009E73" stroke-opacity="0.55" stroke-width="0.9"/>
</g>
<g font-size="8.6">
<text transform="translate(407.8 173.2) scale(0.92 1)" text-anchor="middle">50</text>
<text transform="translate(447.8 173.2) scale(0.92 1)" text-anchor="middle">100</text>
<text transform="translate(488.0 173.2) scale(0.92 1)" text-anchor="middle">150</text>
<text transform="translate(379.3 45.7) scale(0.92 1)" text-anchor="end">11</text>
<text transform="translate(379.3 69.6) scale(0.92 1)" text-anchor="end">10</text>
<text transform="translate(379.3 93.5) scale(0.92 1)" text-anchor="end">9</text>
<text transform="translate(379.3 117.3) scale(0.92 1)" text-anchor="end">8</text>
<text transform="translate(379.3 141.2) scale(0.92 1)" text-anchor="end">7</text>
<text transform="translate(379.3 165.1) scale(0.92 1)" text-anchor="end">6</text>
</g>
<text x="449.8" y="184.3" text-anchor="middle" font-size="9.4">Number of edges</text>
<text transform="translate(365.0 100.6) rotate(-90)" text-anchor="middle" font-size="14.0">Avg. Shortest Path</text>
<clipPath id="c5"><rect x="557.1" y="24.8" width="127.9" height="138.5"/></clipPath>
<g stroke="#d6d6d6" stroke-width="1.4" fill="none">
<line x1="580.3" y1="24.8" x2="580.3" y2="163.3"/>
<line x1="618.4" y1="24.8" x2="618.4" y2="163.3"/>
<line x1="656.3" y1="24.8" x2="656.3" y2="163.3"/>
<line x1="557.1" y1="45.8" x2="685.0" y2="45.8"/>
<line x1="557.1" y1="87.8" x2="685.0" y2="87.8"/>
<line x1="557.1" y1="129.9" x2="685.0" y2="129.9"/>
</g>
<g clip-path="url(#c5)">
<line x1="557.1" y1="60.3" x2="669.7" y2="163.3" stroke="#E69F00" stroke-width="3.0"/>
<line x1="557.1" y1="57.5" x2="685.0" y2="160.4" stroke="#56B4E9" stroke-width="3.0"/>
<line x1="557.1" y1="61.2" x2="669.3" y2="163.3" stroke="#009E73" stroke-width="3.0"/>
<circle cx="578.4" cy="44.6" r="1.0" fill="#56B4E9" fill-opacity="0.5" stroke="#56B4E9" stroke-opacity="0.55" stroke-width="0.9"/>
<circle cx="571.9" cy="50.7" r="2.6" fill="#009E73" fill-opacity="0.5" stroke="#009E73" stroke-opacity="0.55" stroke-width="0.9"/>
<circle cx="586.0" cy="51.9" r="2.2" fill="#009E73" fill-opacity="0.5" stroke="#009E73" stroke-opacity="0.55" stroke-width="0.9"/>
<circle cx="564.8" cy="58.8" r="4.4" fill="#E69F00" fill-opacity="0.5" stroke="#E69F00" stroke-opacity="0.55" stroke-width="0.9"/>
<circle cx="563.3" cy="57.1" r="2.6" fill="#E69F00" fill-opacity="0.5" stroke="#E69F00" stroke-opacity="0.55" stroke-width="0.9"/>
<circle cx="568.9" cy="64.0" r="3.1" fill="#56B4E9" fill-opacity="0.5" stroke="#56B4E9" stroke-opacity="0.55" stroke-width="0.9"/>
<circle cx="589.8" cy="61.9" r="1.0" fill="#56B4E9" fill-opacity="0.5" stroke="#56B4E9" stroke-opacity="0.55" stroke-width="0.9"/>
<circle cx="580.6" cy="66.8" r="4.2" fill="#009E73" fill-opacity="0.5" stroke="#009E73" stroke-opacity="0.55" stroke-width="0.9"/>
<circle cx="575.4" cy="73.0" r="3.9" fill="#009E73" fill-opacity="0.5" stroke="#009E73" stroke-opacity="0.55" stroke-width="0.9"/>
<circle cx="575.0" cy="77.5" r="3.9" fill="#009E73" fill-opacity="0.5" stroke="#009E73" stroke-opacity="0.55" stroke-width="0.9"/>
<circle cx="578.6" cy="75.5" r="4.5" fill="#E69F00" fill-opacity="0.5" stroke="#E69F00" stroke-opacity="0.55" stroke-width="0.9"/>
<circle cx="591.3" cy="74.5" r="1.1" fill="#56B4E9" fill-opacity="0.5" stroke="#56B4E9" stroke-opacity="0.55" stroke-width="0.9"/>
<circle cx="588.5" cy="75.9" r="1.0" fill="#E69F00" fill-opacity="0.5" stroke="#E69F00" stroke-opacity="0.55" stroke-width="0.9"/>
<circle cx="582.9" cy="74.3" r="2.6" fill="#56B4E9" fill-opacity="0.5" stroke="#56B4E9" stroke-opacity="0.55" stroke-width="0.9"/>
<circle cx="585.7" cy="79.9" r="2.6" fill="#56B4E9" fill-opacity="0.5" stroke="#56B4E9" stroke-opacity="0.55" stroke-width="0.9"/>
<circle cx="562.7" cy="83.0" r="3.5" fill="#009E73" fill-opacity="0.5" stroke="#009E73" stroke-opacity="0.55" stroke-width="0.9"/>
<circle cx="595.0" cy="86.4" r="3.9" fill="#009E73" fill-opacity="0.5" stroke="#009E73" stroke-opacity="0.55" stroke-width="0.9"/>
<circle cx="587.5" cy="86.4" r="3.1" fill="#009E73" fill-opacity="0.5" stroke="#009E73" stroke-opacity="0.55" stroke-width="0.9"/>
<circle cx="578.0" cy="91.2" r="3.4" fill="#009E73" fill-opacity="0.5" stroke="#009E73" stroke-opacity="0.55" stroke-width="0.9"/>
<circle cx="572.8" cy="93.0" r="2.4" fill="#E69F00" fill-opacity="0.5" stroke="#E69F00" stroke-opacity="0.55" stroke-width="0.9"/>
<circle cx="565.1" cy="93.8" r="2.6" fill="#009E73" fill-opacity="0.5" stroke="#009E73" stroke-opacity="0.55" stroke-width="0.9"/>
<circle cx="584.7" cy="95.4" r="3.1" fill="#E69F00" fill-opacity="0.5" stroke="#E69F00" stroke-opacity="0.55" stroke-width="0.9"/>
<circle cx="587.0" cy="94.2" r="3.1" fill="#009E73" fill-opacity="0.5" stroke="#009E73" stroke-opacity="0.55" stroke-width="0.9"/>
<circle cx="590.3" cy="99.1" r="2.6" fill="#009E73" fill-opacity="0.5" stroke="#009E73" stroke-opacity="0.55" stroke-width="0.9"/>
<circle cx="591.6" cy="104.1" r="2.6" fill="#009E73" fill-opacity="0.5" stroke="#009E73" stroke-opacity="0.55" stroke-width="0.9"/>
<circle cx="590.7" cy="112.2" r="1.1" fill="#009E73" fill-opacity="0.5" stroke="#009E73" stroke-opacity="0.55" stroke-width="0.9"/>
<circle cx="582.1" cy="116.5" r="1.0" fill="#56B4E9" fill-opacity="0.5" stroke="#56B4E9" stroke-opacity="0.55" stroke-width="0.9"/>
<circle cx="608.6" cy="100.8" r="3.6" fill="#E69F00" fill-opacity="0.5" stroke="#E69F00" stroke-opacity="0.55" stroke-width="0.9"/>
<circle cx="613.9" cy="100.4" r="3.1" fill="#009E73" fill-opacity="0.5" stroke="#009E73" stroke-opacity="0.55" stroke-width="0.9"/>
<circle cx="613.1" cy="117.8" r="3.9" fill="#E69F00" fill-opacity="0.5" stroke="#E69F00" stroke-opacity="0.55" stroke-width="0.9"/>
<circle cx="607.1" cy="133.1" r="2.6" fill="#E69F00" fill-opacity="0.5" stroke="#E69F00" stroke-opacity="0.55" stroke-width="0.9"/>
<circle cx="603.6" cy="138.3" r="1.0" fill="#56B4E9" fill-opacity="0.5" stroke="#56B4E9" stroke-opacity="0.55" stroke-width="0.9"/>
<circle cx="629.0" cy="92.0" r="3.1" fill="#56B4E9" fill-opacity="0.5" stroke="#56B4E9" stroke-opacity="0.55" stroke-width="0.9"/>
<circle cx="622.6" cy="101.3" r="2.1" fill="#56B4E9" fill-opacity="0.5" stroke="#56B4E9" stroke-opacity="0.55" stroke-width="0.9"/>
<circle cx="621.5" cy="115.3" r="3.6" fill="#56B4E9" fill-opacity="0.5" stroke="#56B4E9" stroke-opacity="0.55" stroke-width="0.9"/>
<circle cx="645.4" cy="116.3" r="3.5" fill="#56B4E9" fill-opacity="0.5" stroke="#56B4E9" stroke-opacity="0.55" stroke-width="0.9"/>
<circle cx="649.0" cy="126.5" r="3.5" fill="#56B4E9" fill-opacity="0.5" stroke="#56B4E9" stroke-opacity="0.55" stroke-width="0.9"/>
<circle cx="634.2" cy="134.6" r="2.9" fill="#009E73" fill-opacity="0.5" stroke="#009E73" stroke-opacity="0.55" stroke-width="0.9"/>
<circle cx="634.8" cy="142.4" r="3.4" fill="#009E73" fill-opacity="0.5" stroke="#009E73" stroke-opacity="0.55" stroke-width="0.9"/>
<circle cx="653.3" cy="138.7" r="3.5" fill="#E69F00" fill-opacity="0.5" stroke="#E69F00" stroke-opacity="0.55" stroke-width="0.9"/>
<circle cx="650.1" cy="140.0" r="2.9" fill="#E69F00" fill-opacity="0.5" stroke="#E69F00" stroke-opacity="0.55" stroke-width="0.9"/>
<circle cx="670.6" cy="142.8" r="2.6" fill="#56B4E9" fill-opacity="0.5" stroke="#56B4E9" stroke-opacity="0.55" stroke-width="0.9"/>
<circle cx="678.8" cy="146.7" r="2.9" fill="#56B4E9" fill-opacity="0.5" stroke="#56B4E9" stroke-opacity="0.55" stroke-width="0.9"/>
<circle cx="642.6" cy="146.1" r="2.4" fill="#56B4E9" fill-opacity="0.5" stroke="#56B4E9" stroke-opacity="0.55" stroke-width="0.9"/>
<circle cx="646.4" cy="148.9" r="3.5" fill="#56B4E9" fill-opacity="0.5" stroke="#56B4E9" stroke-opacity="0.55" stroke-width="0.9"/>
<circle cx="649.2" cy="152.3" r="2.9" fill="#E69F00" fill-opacity="0.5" stroke="#E69F00" stroke-opacity="0.55" stroke-width="0.9"/>
</g>
<g font-size="8.6">
<text transform="translate(580.6 173.9) scale(0.92 1)" text-anchor="middle">50</text>
<text transform="translate(618.7 173.9) scale(0.92 1)" text-anchor="middle">100</text>
<text transform="translate(656.6 173.9) scale(0.92 1)" text-anchor="middle">150</text>
<text transform="translate(552.9 48.9) scale(0.92 1)" text-anchor="end">0.20</text>
<text transform="translate(552.9 90.9) scale(0.92 1)" text-anchor="end">0.15</text>
<text transform="translate(552.9 133.0) scale(0.92 1)" text-anchor="end">0.10</text>
</g>
<text x="620.8" y="184.3" text-anchor="middle" font-size="9.4">Number of edges</text>
<text transform="translate(533.2 93.1) rotate(-90)" text-anchor="middle" font-size="11.5">Betweenness Centrality</text>
<clipPath id="c6"><rect x="383.7" y="192.0" width="132.1" height="136.0"/></clipPath>
<g stroke="#d6d6d6" stroke-width="1.4" fill="none">
<line x1="407.3" y1="192.0" x2="407.3" y2="328.0"/>
<line x1="447.1" y1="192.0" x2="447.1" y2="328.0"/>
<line x1="486.4" y1="192.0" x2="486.4" y2="328.0"/>
<line x1="383.7" y1="200.4" x2="515.8" y2="200.4"/>
<line x1="383.7" y1="241.0" x2="515.8" y2="241.0"/>
<line x1="383.7" y1="281.3" x2="515.8" y2="281.3"/>
<line x1="383.7" y1="322.2" x2="515.8" y2="322.2"/>
</g>
<g clip-path="url(#c6)">
<line x1="383.7" y1="285.1" x2="515.8" y2="240.8" stroke="#E69F00" stroke-width="3.0"/>
<line x1="383.7" y1="259.9" x2="515.8" y2="244.9" stroke="#56B4E9" stroke-width="3.0"/>
<line x1="383.7" y1="273.9" x2="515.8" y2="250.5" stroke="#009E73" stroke-width="3.0"/>
<circle cx="438.8" cy="198.1" r="2.4" fill="#56B4E9" fill-opacity="0.5" stroke="#56B4E9" stroke-opacity="0.55" stroke-width="0.9"/>
<circle cx="405.8" cy="208.3" r="1.0" fill="#56B4E9" fill-opacity="0.5" stroke="#56B4E9" stroke-opacity="0.55" stroke-width="0.9"/>
<circle cx="409.5" cy="208.3" r="1.0" fill="#56B4E9" fill-opacity="0.5" stroke="#56B4E9" stroke-opacity="0.55" stroke-width="0.9"/>
<circle cx="413.5" cy="216.6" r="2.4" fill="#009E73" fill-opacity="0.5" stroke="#009E73" stroke-opacity="0.55" stroke-width="0.9"/>
<circle cx="419.1" cy="216.6" r="2.9" fill="#009E73" fill-opacity="0.5" stroke="#009E73" stroke-opacity="0.55" stroke-width="0.9"/>
<circle cx="408.0" cy="231.3" r="3.6" fill="#56B4E9" fill-opacity="0.5" stroke="#56B4E9" stroke-opacity="0.55" stroke-width="0.9"/>
<circle cx="402.6" cy="239.9" r="3.9" fill="#009E73" fill-opacity="0.5" stroke="#009E73" stroke-opacity="0.55" stroke-width="0.9"/>
<circle cx="418.3" cy="241.0" r="1.0" fill="#56B4E9" fill-opacity="0.5" stroke="#56B4E9" stroke-opacity="0.55" stroke-width="0.9"/>
<circle cx="441.6" cy="241.0" r="2.2" fill="#56B4E9" fill-opacity="0.5" stroke="#56B4E9" stroke-opacity="0.55" stroke-width="0.9"/>
<circle cx="411.0" cy="247.7" r="3.9" fill="#56B4E9" fill-opacity="0.5" stroke="#56B4E9" stroke-opacity="0.55" stroke-width="0.9"/>
<circle cx="442.2" cy="251.5" r="3.1" fill="#009E73" fill-opacity="0.5" stroke="#009E73" stroke-opacity="0.55" stroke-width="0.9"/>
<circle cx="417.9" cy="257.1" r="2.6" fill="#009E73" fill-opacity="0.5" stroke="#009E73" stroke-opacity="0.55" stroke-width="0.9"/>
<circle cx="437.9" cy="258.6" r="3.9" fill="#E69F00" fill-opacity="0.5" stroke="#E69F00" stroke-opacity="0.55" stroke-width="0.9"/>
<circle cx="406.7" cy="262.7" r="4.2" fill="#E69F00" fill-opacity="0.5" stroke="#E69F00" stroke-opacity="0.55" stroke-width="0.9"/>
<circle cx="398.9" cy="265.0" r="2.4" fill="#009E73" fill-opacity="0.5" stroke="#009E73" stroke-opacity="0.55" stroke-width="0.9"/>
<circle cx="422.9" cy="263.7" r="3.6" fill="#009E73" fill-opacity="0.5" stroke="#009E73" stroke-opacity="0.55" stroke-width="0.9"/>
<circle cx="441.6" cy="264.2" r="3.1" fill="#E69F00" fill-opacity="0.5" stroke="#E69F00" stroke-opacity="0.55" stroke-width="0.9"/>
<circle cx="435.6" cy="264.6" r="2.6" fill="#E69F00" fill-opacity="0.5" stroke="#E69F00" stroke-opacity="0.55" stroke-width="0.9"/>
<circle cx="407.1" cy="271.1" r="3.6" fill="#009E73" fill-opacity="0.5" stroke="#009E73" stroke-opacity="0.55" stroke-width="0.9"/>
<circle cx="414.5" cy="270.2" r="3.6" fill="#009E73" fill-opacity="0.5" stroke="#009E73" stroke-opacity="0.55" stroke-width="0.9"/>
<circle cx="400.5" cy="273.4" r="2.4" fill="#E69F00" fill-opacity="0.5" stroke="#E69F00" stroke-opacity="0.55" stroke-width="0.9"/>
<circle cx="405.2" cy="274.9" r="3.1" fill="#009E73" fill-opacity="0.5" stroke="#009E73" stroke-opacity="0.55" stroke-width="0.9"/>
<circle cx="415.1" cy="276.4" r="3.9" fill="#009E73" fill-opacity="0.5" stroke="#009E73" stroke-opacity="0.55" stroke-width="0.9"/>
<circle cx="413.6" cy="275.8" r="3.1" fill="#E69F00" fill-opacity="0.5" stroke="#E69F00" stroke-opacity="0.55" stroke-width="0.9"/>
<circle cx="392.5" cy="277.3" r="3.5" fill="#E69F00" fill-opacity="0.5" stroke="#E69F00" stroke-opacity="0.55" stroke-width="0.9"/>
<circle cx="433.2" cy="276.7" r="3.1" fill="#56B4E9" fill-opacity="0.5" stroke="#56B4E9" stroke-opacity="0.55" stroke-width="0.9"/>
<circle cx="443.1" cy="281.4" r="3.5" fill="#56B4E9" fill-opacity="0.5" stroke="#56B4E9" stroke-opacity="0.55" stroke-width="0.9"/>
<circle cx="391.8" cy="284.2" r="2.6" fill="#009E73" fill-opacity="0.5" stroke="#009E73" stroke-opacity="0.55" stroke-width="0.9"/>
<circle cx="402.4" cy="281.4" r="2.1" fill="#009E73" fill-opacity="0.5" stroke="#009E73" stroke-opacity="0.55" stroke-width="0.9"/>
<circle cx="416.4" cy="281.4" r="1.1" fill="#E69F00" fill-opacity="0.5" stroke="#E69F00" stroke-opacity="0.55" stroke-width="0.9"/>
<circle cx="419.8" cy="283.8" r="3.1" fill="#009E73" fill-opacity="0.5" stroke="#009E73" stroke-opacity="0.55" stroke-width="0.9"/>
<circle cx="402.4" cy="287.6" r="3.5" fill="#009E73" fill-opacity="0.5" stroke="#009E73" stroke-opacity="0.55" stroke-width="0.9"/>
<circle cx="394.6" cy="288.9" r="3.6" fill="#56B4E9" fill-opacity="0.5" stroke="#56B4E9" stroke-opacity="0.55" stroke-width="0.9"/>
<circle cx="390.3" cy="291.1" r="3.0" fill="#E69F00" fill-opacity="0.5" stroke="#E69F00" stroke-opacity="0.55" stroke-width="0.9"/>
<circle cx="403.3" cy="293.9" r="4.4" fill="#E69F00" fill-opacity="0.5" stroke="#E69F00" stroke-opacity="0.55" stroke-width="0.9"/>
<circle cx="389.3" cy="300.4" r="3.4" fill="#009E73" fill-opacity="0.5" stroke="#009E73" stroke-opacity="0.55" stroke-width="0.9"/>
<circle cx="478.4" cy="228.6" r="3.9" fill="#56B4E9" fill-opacity="0.5" stroke="#56B4E9" stroke-opacity="0.55" stroke-width="0.9"/>
<circle cx="474.8" cy="233.3" r="3.5" fill="#56B4E9" fill-opacity="0.5" stroke="#56B4E9" stroke-opacity="0.55" stroke-width="0.9"/>
<circle cx="483.0" cy="238.5" r="3.7" fill="#E69F00" fill-opacity="0.5" stroke="#E69F00" stroke-opacity="0.55" stroke-width="0.9"/>
<circle cx="509.4" cy="240.8" r="3.1" fill="#56B4E9" fill-opacity="0.5" stroke="#56B4E9" stroke-opacity="0.55" stroke-width="0.9"/>
<circle cx="500.8" cy="247.1" r="2.6" fill="#56B4E9" fill-opacity="0.5" stroke="#56B4E9" stroke-opacity="0.55" stroke-width="0.9"/>
<circle cx="472.0" cy="251.0" r="2.6" fill="#56B4E9" fill-opacity="0.5" stroke="#56B4E9" stroke-opacity="0.55" stroke-width="0.9"/>
<circle cx="464.0" cy="255.7" r="3.1" fill="#009E73" fill-opacity="0.5" stroke="#009E73" stroke-opacity="0.55" stroke-width="0.9"/>
<circle cx="457.5" cy="257.0" r="3.1" fill="#56B4E9" fill-opacity="0.5" stroke="#56B4E9" stroke-opacity="0.55" stroke-width="0.9"/>
<circle cx="451.9" cy="259.8" r="3.9" fill="#56B4E9" fill-opacity="0.5" stroke="#56B4E9" stroke-opacity="0.55" stroke-width="0.9"/>
<circle cx="479.9" cy="263.9" r="2.9" fill="#E69F00" fill-opacity="0.5" stroke="#E69F00" stroke-opacity="0.55" stroke-width="0.9"/>
<circle cx="478.9" cy="275.1" r="2.9" fill="#E69F00" fill-opacity="0.5" stroke="#E69F00" stroke-opacity="0.55" stroke-width="0.9"/>
<circle cx="475.8" cy="279.8" r="3.5" fill="#56B4E9" fill-opacity="0.5" stroke="#56B4E9" stroke-opacity="0.55" stroke-width="0.9"/>
<circle cx="464.0" cy="282.2" r="3.5" fill="#009E73" fill-opacity="0.5" stroke="#009E73" stroke-opacity="0.55" stroke-width="0.9"/>
<circle cx="431.7" cy="322.3" r="0.8" fill="#56B4E9" fill-opacity="0.5" stroke="#56B4E9" stroke-opacity="0.55" stroke-width="0.9"/>
</g>
<g font-size="8.6">
<text transform="translate(407.6 338.6) scale(0.92 1)" text-anchor="middle">50</text>
<text transform="translate(447.4 338.6) scale(0.92 1)" text-anchor="middle">100</text>
<text transform="translate(486.7 338.6) scale(0.92 1)" text-anchor="middle">150</text>
<text transform="translate(379.5 203.5) scale(0.92 1)" text-anchor="end">30</text>
<text transform="translate(379.5 244.1) scale(0.92 1)" text-anchor="end">25</text>
<text transform="translate(379.5 284.4) scale(0.92 1)" text-anchor="end">20</text>
<text transform="translate(379.5 325.3) scale(0.92 1)" text-anchor="end">15</text>
</g>
<text x="449.4" y="349.1" text-anchor="middle" font-size="9.4">Number of edges</text>
<text transform="translate(366.2 262.0) rotate(-90)" text-anchor="middle" font-size="14.0">Diameter</text>
<clipPath id="c7"><rect x="556.3" y="195.0" width="121.9" height="132.8"/></clipPath>
<g stroke="#d6d6d6" stroke-width="1.4" fill="none">
<line x1="577.8" y1="195.0" x2="577.8" y2="327.8"/>
<line x1="614.7" y1="195.0" x2="614.7" y2="327.8"/>
<line x1="651.5" y1="195.0" x2="651.5" y2="327.8"/>
<line x1="556.3" y1="202.0" x2="678.2" y2="202.0"/>
<line x1="556.3" y1="232.1" x2="678.2" y2="232.1"/>
<line x1="556.3" y1="262.1" x2="678.2" y2="262.1"/>
<line x1="556.3" y1="292.0" x2="678.2" y2="292.0"/>
<line x1="556.3" y1="321.9" x2="678.2" y2="321.9"/>
</g>
<g clip-path="url(#c7)">
<line x1="556.3" y1="298.6" x2="678.2" y2="296.5" stroke="#E69F00" stroke-width="3.0"/>
<line x1="556.3" y1="301.4" x2="678.2" y2="291.7" stroke="#56B4E9" stroke-width="3.0"/>
<line x1="556.3" y1="307.6" x2="678.2" y2="274.3" stroke="#009E73" stroke-width="3.0"/>
<circle cx="587.5" cy="200.9" r="0.8" fill="#56B4E9" fill-opacity="0.5" stroke="#56B4E9" stroke-opacity="0.55" stroke-width="0.9"/>
<circle cx="583.8" cy="279.9" r="3.6" fill="#E69F00" fill-opacity="0.5" stroke="#E69F00" stroke-opacity="0.55" stroke-width="0.9"/>
<circle cx="588.1" cy="280.9" r="1.1" fill="#009E73" fill-opacity="0.5" stroke="#009E73" stroke-opacity="0.55" stroke-width="0.9"/>
<circle cx="576.0" cy="285.9" r="3.6" fill="#009E73" fill-opacity="0.5" stroke="#009E73" stroke-opacity="0.55" stroke-width="0.9"/>
<circle cx="587.5" cy="288.3" r="2.6" fill="#009E73" fill-opacity="0.5" stroke="#009E73" stroke-opacity="0.55" stroke-width="0.9"/>
<circle cx="583.8" cy="289.3" r="2.1" fill="#009E73" fill-opacity="0.5" stroke="#009E73" stroke-opacity="0.55" stroke-width="0.9"/>
<circle cx="577.3" cy="293.0" r="4.2" fill="#009E73" fill-opacity="0.5" stroke="#009E73" stroke-opacity="0.55" stroke-width="0.9"/>
<circle cx="573.2" cy="293.0" r="2.6" fill="#009E73" fill-opacity="0.5" stroke="#009E73" stroke-opacity="0.55" stroke-width="0.9"/>
<circle cx="579.6" cy="293.3" r="3.6" fill="#009E73" fill-opacity="0.5" stroke="#009E73" stroke-opacity="0.55" stroke-width="0.9"/>
<circle cx="573.4" cy="301.0" r="3.4" fill="#009E73" fill-opacity="0.5" stroke="#009E73" stroke-opacity="0.55" stroke-width="0.9"/>
<circle cx="563.9" cy="310.6" r="3.0" fill="#009E73" fill-opacity="0.5" stroke="#009E73" stroke-opacity="0.55" stroke-width="0.9"/>
<circle cx="585.3" cy="304.6" r="3.2" fill="#009E73" fill-opacity="0.5" stroke="#009E73" stroke-opacity="0.55" stroke-width="0.9"/>
<circle cx="574.0" cy="309.4" r="3.1" fill="#009E73" fill-opacity="0.5" stroke="#009E73" stroke-opacity="0.55" stroke-width="0.9"/>
<circle cx="563.8" cy="297.1" r="3.9" fill="#E69F00" fill-opacity="0.5" stroke="#E69F00" stroke-opacity="0.55" stroke-width="0.9"/>
<circle cx="572.6" cy="300.1" r="3.6" fill="#E69F00" fill-opacity="0.5" stroke="#E69F00" stroke-opacity="0.55" stroke-width="0.9"/>
<circle cx="573.5" cy="301.4" r="3.6" fill="#009E73" fill-opacity="0.5" stroke="#009E73" stroke-opacity="0.55" stroke-width="0.9"/>
<circle cx="578.8" cy="303.3" r="3.1" fill="#E69F00" fill-opacity="0.5" stroke="#E69F00" stroke-opacity="0.55" stroke-width="0.9"/>
<circle cx="585.1" cy="304.2" r="3.6" fill="#009E73" fill-opacity="0.5" stroke="#009E73" stroke-opacity="0.55" stroke-width="0.9"/>
<circle cx="592.2" cy="303.3" r="3.9" fill="#009E73" fill-opacity="0.5" stroke="#009E73" stroke-opacity="0.55" stroke-width="0.9"/>
<circle cx="588.8" cy="301.4" r="2.6" fill="#009E73" fill-opacity="0.5" stroke="#009E73" stroke-opacity="0.55" stroke-width="0.9"/>
<circle cx="570.7" cy="307.6" r="3.1" fill="#009E73" fill-opacity="0.5" stroke="#009E73" stroke-opacity="0.55" stroke-width="0.9"/>
<circle cx="574.5" cy="309.8" r="3.4" fill="#009E73" fill-opacity="0.5" stroke="#009E73" stroke-opacity="0.55" stroke-width="0.9"/>
<circle cx="566.4" cy="310.7" r="3.1" fill="#56B4E9" fill-opacity="0.5" stroke="#56B4E9" stroke-opacity="0.55" stroke-width="0.9"/>
<circle cx="561.4" cy="312.6" r="3.6" fill="#009E73" fill-opacity="0.5" stroke="#009E73" stroke-opacity="0.55" stroke-width="0.9"/>
<circle cx="585.1" cy="309.8" r="2.9" fill="#009E73" fill-opacity="0.5" stroke="#009E73" stroke-opacity="0.55" stroke-width="0.9"/>
<circle cx="588.8" cy="313.2" r="2.6" fill="#009E73" fill-opacity="0.5" stroke="#009E73" stroke-opacity="0.55" stroke-width="0.9"/>
<circle cx="578.8" cy="316.3" r="3.9" fill="#56B4E9" fill-opacity="0.5" stroke="#56B4E9" stroke-opacity="0.55" stroke-width="0.9"/>
<circle cx="586.0" cy="315.4" r="1.1" fill="#E69F00" fill-opacity="0.5" stroke="#E69F00" stroke-opacity="0.55" stroke-width="0.9"/>
<circle cx="571.7" cy="321.4" r="2.6" fill="#E69F00" fill-opacity="0.5" stroke="#E69F00" stroke-opacity="0.55" stroke-width="0.9"/>
<circle cx="588.8" cy="321.4" r="1.0" fill="#56B4E9" fill-opacity="0.5" stroke="#56B4E9" stroke-opacity="0.55" stroke-width="0.9"/>
<circle cx="609.6" cy="281.8" r="2.1" fill="#56B4E9" fill-opacity="0.5" stroke="#56B4E9" stroke-opacity="0.55" stroke-width="0.9"/>
<circle cx="606.2" cy="286.5" r="4.2" fill="#E69F00" fill-opacity="0.5" stroke="#E69F00" stroke-opacity="0.55" stroke-width="0.9"/>
<circle cx="611.8" cy="289.3" r="3.1" fill="#56B4E9" fill-opacity="0.5" stroke="#56B4E9" stroke-opacity="0.55" stroke-width="0.9"/>
<circle cx="608.1" cy="293.0" r="3.1" fill="#56B4E9" fill-opacity="0.5" stroke="#56B4E9" stroke-opacity="0.55" stroke-width="0.9"/>
<circle cx="609.4" cy="296.4" r="3.6" fill="#E69F00" fill-opacity="0.5" stroke="#E69F00" stroke-opacity="0.55" stroke-width="0.9"/>
<circle cx="603.8" cy="301.4" r="2.6" fill="#E69F00" fill-opacity="0.5" stroke="#E69F00" stroke-opacity="0.55" stroke-width="0.9"/>
<circle cx="601.9" cy="304.6" r="3.1" fill="#56B4E9" fill-opacity="0.5" stroke="#56B4E9" stroke-opacity="0.55" stroke-width="0.9"/>
<circle cx="610.1" cy="306.4" r="3.1" fill="#009E73" fill-opacity="0.5" stroke="#009E73" stroke-opacity="0.55" stroke-width="0.9"/>
<circle cx="618.7" cy="305.1" r="2.1" fill="#56B4E9" fill-opacity="0.5" stroke="#56B4E9" stroke-opacity="0.55" stroke-width="0.9"/>
<circle cx="583.8" cy="305.1" r="2.6" fill="#56B4E9" fill-opacity="0.5" stroke="#56B4E9" stroke-opacity="0.55" stroke-width="0.9"/>
<circle cx="630.5" cy="278.9" r="3.1" fill="#009E73" fill-opacity="0.5" stroke="#009E73" stroke-opacity="0.55" stroke-width="0.9"/>
<circle cx="637.8" cy="283.0" r="2.6" fill="#56B4E9" fill-opacity="0.5" stroke="#56B4E9" stroke-opacity="0.55" stroke-width="0.9"/>
<circle cx="630.5" cy="287.7" r="3.1" fill="#009E73" fill-opacity="0.5" stroke="#009E73" stroke-opacity="0.55" stroke-width="0.9"/>
<circle cx="672.5" cy="284.9" r="2.9" fill="#56B4E9" fill-opacity="0.5" stroke="#56B4E9" stroke-opacity="0.55" stroke-width="0.9"/>
<circle cx="645.2" cy="292.0" r="3.1" fill="#E69F00" fill-opacity="0.5" stroke="#E69F00" stroke-opacity="0.55" stroke-width="0.9"/>
<circle cx="641.1" cy="293.3" r="3.9" fill="#56B4E9" fill-opacity="0.5" stroke="#56B4E9" stroke-opacity="0.55" stroke-width="0.9"/>
<circle cx="618.7" cy="295.1" r="4.2" fill="#56B4E9" fill-opacity="0.5" stroke="#56B4E9" stroke-opacity="0.55" stroke-width="0.9"/>
<circle cx="624.7" cy="299.2" r="3.1" fill="#56B4E9" fill-opacity="0.5" stroke="#56B4E9" stroke-opacity="0.55" stroke-width="0.9"/>
<circle cx="618.9" cy="305.4" r="2.1" fill="#56B4E9" fill-opacity="0.5" stroke="#56B4E9" stroke-opacity="0.55" stroke-width="0.9"/>
<circle cx="643.9" cy="300.4" r="2.6" fill="#E69F00" fill-opacity="0.5" stroke="#E69F00" stroke-opacity="0.55" stroke-width="0.9"/>
<circle cx="648.0" cy="304.5" r="3.9" fill="#E69F00" fill-opacity="0.5" stroke="#E69F00" stroke-opacity="0.55" stroke-width="0.9"/>
<circle cx="643.6" cy="308.6" r="3.5" fill="#56B4E9" fill-opacity="0.5" stroke="#56B4E9" stroke-opacity="0.55" stroke-width="0.9"/>
<circle cx="664.7" cy="301.7" r="2.4" fill="#56B4E9" fill-opacity="0.5" stroke="#56B4E9" stroke-opacity="0.55" stroke-width="0.9"/>
</g>
<g font-size="8.6">
<text transform="translate(578.1 338.4) scale(0.92 1)" text-anchor="middle">50</text>
<text transform="translate(615.0 338.4) scale(0.92 1)" text-anchor="middle">100</text>
<text transform="translate(651.8 338.4) scale(0.92 1)" text-anchor="middle">150</text>
<text transform="translate(552.1 205.1) scale(0.92 1)" text-anchor="end">0.08</text>
<text transform="translate(552.1 235.2) scale(0.92 1)" text-anchor="end">0.06</text>
<text transform="translate(552.1 265.2) scale(0.92 1)" text-anchor="end">0.04</text>
<text transform="translate(552.1 295.1) scale(0.92 1)" text-anchor="end">0.02</text>
<text transform="translate(552.1 325.0) scale(0.92 1)" text-anchor="end">0.00</text>
</g>
<text x="617.0" y="349.1" text-anchor="middle" font-size="9.4">Number of edges</text>
<text transform="translate(531.5 259.2) rotate(-90)" text-anchor="middle" font-size="14.0">Clustering</text>
<text x="174.9" y="13" text-anchor="middle" font-size="18.7">Typical Dreams</text>
<text x="523.2" y="13.8" text-anchor="middle" font-size="18.7">Non-Lucid Dreams</text>
<circle cx="243.0" cy="368.6" r="2.5" fill="#E69F00" fill-opacity="0.6"/>
<text x="247.4" y="373.3" font-size="15.4">Non-Lucid</text>
<circle cx="343.2" cy="368.6" r="2.5" fill="#56B4E9" fill-opacity="0.6"/>
<text x="348.6" y="373.3" font-size="15.4">Lucid</text>
<circle cx="407.0" cy="368.6" r="2.5" fill="#009E73" fill-opacity="0.6"/>
<text x="411.4" y="373.3" font-size="15.4">OBE</text>
</svg></body></html>
